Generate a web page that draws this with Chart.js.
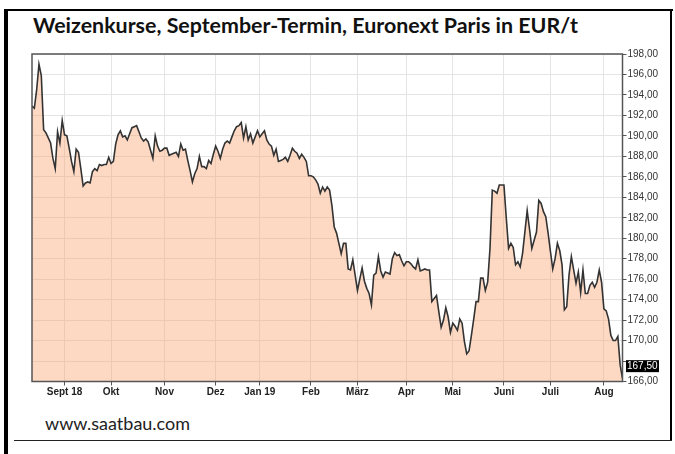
<!DOCTYPE html>
<html>
<head>
<meta charset="utf-8">
<script src="https://cdn.jsdelivr.net/npm/chart.js@4"></script>
<style>
  html,body{margin:0;padding:0;background:#fff;}
  body{width:675px;height:454px;position:relative;overflow:hidden;}
  #wrap{position:absolute;left:0;top:0;width:675px;height:454px;}
  #title{position:absolute;left:33px;top:12px;font-family:Lato,"Open Sans",sans-serif;font-weight:bold;font-size:21.4px;color:#111;white-space:nowrap;}
  #foot{position:absolute;left:45px;top:412px;font-family:Lato,"Open Sans",sans-serif;font-size:18px;color:#222;white-space:nowrap;}
  .fr{position:absolute;background:#000;}
</style>
</head>
<body>
<div class="fr" style="left:4px;top:9px;width:4px;height:445px;"></div>
<div class="fr" style="left:4px;top:9px;width:669px;height:2px;"></div>
<div class="fr" style="left:670px;top:9px;width:2px;height:432px;"></div>
<div class="fr" style="left:14px;top:440px;width:658px;height:1px;background:#222;"></div>
<div id="title">Weizenkurse, September-Termin, Euronext Paris in EUR/t</div>
<div id="foot">www.saatbau.com</div>
<div id="wrap"><canvas id="c" width="675" height="454"></canvas></div>
<script>
// Month labels and the trading-day index where each month starts
const monthLabels = ['Sept 18','Okt','Nov','Dez','Jan 19','Feb','März','Apr','Mai','Juni','Juli','Aug'];
const monthStarts = [14,34,57,79,98,120,140,161,181,203,223,246];
// Daily settlement prices (EUR/t), one per trading day, Aug 2018 – Aug 2019
const prices = [
192.9,192.7,194.5,197.0,195.9,190.6,190.3,189.8,189.3,187.8,
186.8,190.4,189.3,191.5,190.1,190.0,188.8,187.5,186.5,188.7,
188.4,186.8,185.1,185.4,185.5,185.4,186.5,186.8,186.6,187.2,
187.1,187.2,187.2,187.9,187.3,187.5,189.2,190.1,190.5,189.9,
190.0,189.6,190.2,190.8,190.9,191.0,190.4,189.8,189.5,189.7,
189.4,188.6,187.8,190.0,189.0,188.5,188.6,188.8,188.8,188.1,
188.2,188.3,188.4,188.0,189.2,188.6,188.7,187.6,186.6,185.5,
186.3,186.8,188.0,187.0,187.0,186.8,187.6,187.3,188.2,189.0,
188.5,187.8,188.7,189.3,189.5,189.3,189.9,190.5,190.9,191.0,
191.3,189.8,190.9,189.6,190.2,189.3,189.9,190.5,189.9,190.2,
190.5,189.6,189.2,189.0,188.1,188.7,187.5,187.6,187.7,187.9,
187.5,188.1,188.8,188.5,188.3,187.8,188.2,187.9,187.5,186.1,
186.1,186.0,185.7,185.3,184.4,185.0,184.6,185.0,184.7,183.2,
181.1,180.5,179.5,178.5,179.5,179.5,177.0,176.9,177.9,176.4,
174.9,176.0,177.1,175.8,175.1,174.6,173.5,176.4,176.6,178.2,
176.8,176.2,176.7,176.6,176.5,178.0,178.6,178.3,178.4,177.8,
177.3,177.7,177.7,177.5,177.2,177.0,177.9,176.8,176.9,177.0,
176.9,176.9,173.8,174.1,174.4,172.8,171.3,172.0,173.2,172.3,
170.8,171.7,171.4,171.0,172.1,171.7,169.9,168.7,169.0,170.5,
172.1,173.8,173.8,176.1,176.1,174.9,175.7,179.0,184.7,184.6,
184.4,185.2,185.2,185.2,182.0,179.0,179.5,179.1,177.4,177.7,
177.2,178.5,180.6,182.7,180.9,179.0,179.8,180.6,183.7,183.4,
182.6,182.1,180.5,178.7,177.0,178.0,179.5,178.8,177.4,173.0,
173.3,176.4,178.2,176.9,175.6,176.7,174.7,176.9,174.6,174.6,
175.4,175.7,175.2,175.7,176.9,175.7,173.1,172.9,172.1,170.5,
170.0,170.0,170.4,167.6,166.3
];
const yMin = 166, yMax = 198, yStep = 2;
const lastPrice = 167.5;

const fmt = v => v.toFixed(2).replace('.', ',');

const framePlugin = {
  id: 'frame',
  afterDraw(chart) {
    const {ctx, chartArea: a, scales} = chart;
    ctx.save();
    ctx.strokeStyle = '#555';
    ctx.lineWidth = 1.5;
    ctx.strokeRect(a.left, a.top, a.right - a.left, a.bottom - a.top);
    const y = scales.y.getPixelForValue(lastPrice);
    ctx.fillStyle = '#000';
    ctx.fillRect(a.right + 3.5, y - 6, 33, 12);
    ctx.fillStyle = '#fff';
    ctx.font = '10px "Liberation Sans", Arial, sans-serif';
    ctx.textBaseline = 'middle';
    ctx.textAlign = 'left';
    ctx.fillText(fmt(lastPrice), a.right + 4.5, y + 0.5);
    ctx.restore();
  }
};

new Chart(document.getElementById('c'), {
  type: 'line',
  data: {
    datasets: [{
      data: prices.map((v, i) => ({x: i, y: v})),
      borderColor: '#333',
      borderWidth: 1.6,
      backgroundColor: 'rgba(250,165,115,0.42)',
      fill: 'start',
      pointRadius: 0,
      tension: 0
    }]
  },
  options: {
    responsive: false,
    animation: false,
    events: [],
    layout: {padding: {left: 32, top: 54, right: 0, bottom: 0}},
    plugins: {legend: {display: false}, tooltip: {enabled: false}},
    scales: {
      x: {
        type: 'linear',
        min: 0,
        max: prices.length - 1,
        afterBuildTicks: s => { s.ticks = monthStarts.map(v => ({value: v})); },
        afterFit: s => { s.height = 72.5; },
        ticks: {
          autoSkip: false,
          maxRotation: 0,
          padding: 1,
          color: '#222',
          font: {family: '"Liberation Sans", Arial, sans-serif', size: 10, weight: 'bold'},
          callback: v => monthLabels[monthStarts.indexOf(v)]
        },
        grid: {color: '#e4e4e4', lineWidth: 1, tickColor: '#555', tickLength: 4, drawTicks: true},
        border: {display: false}
      },
      y: {
        position: 'right',
        min: yMin,
        max: yMax,
        afterFit: s => { s.width = 52.5; },
        ticks: {
          stepSize: yStep,
          padding: 1,
          color: '#333',
          font: {family: '"Liberation Sans", Arial, sans-serif', size: 10},
          callback: v => Math.abs(v - lastPrice) < 1 ? '' : fmt(v)
        },
        grid: {color: '#e4e4e4', lineWidth: 1, tickColor: '#555', tickLength: 4, drawTicks: true},
        border: {display: false}
      }
    }
  },
  plugins: [framePlugin]
});
</script>
</body>
</html>
